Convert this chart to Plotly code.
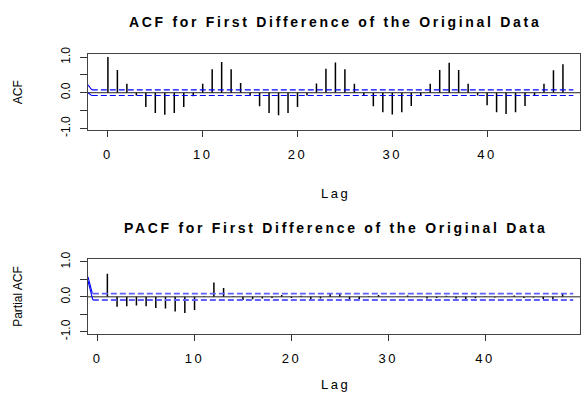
import plotly.graph_objects as go

acf_lags = list(range(0, 49))
acf_vals = [1.00, 0.64, 0.25, -0.08, -0.40, -0.57, -0.62, -0.57, -0.40, -0.10,
            0.25, 0.66, 0.86, 0.66, 0.27, -0.08, -0.38, -0.57, -0.63, -0.57,
            -0.40, -0.08, 0.26, 0.67, 0.85, 0.66, 0.25, -0.08, -0.38, -0.55,
            -0.61, -0.55, -0.37, -0.08, 0.25, 0.64, 0.84, 0.64, 0.25, -0.08,
            -0.35, -0.55, -0.60, -0.55, -0.37, -0.08, 0.25, 0.63, 0.80]

pacf_lags = list(range(1, 49))
pacf_vals = [0.66, -0.28, -0.27, -0.25, -0.27, -0.32, -0.33, -0.42, -0.46, -0.38,
             0.02, 0.41, 0.25, 0.02, -0.09, -0.07, -0.05, -0.03, 0.05, -0.03,
             0.03, -0.09, -0.05, 0.11, 0.08, -0.09, -0.06, 0.02, 0.05, 0.01,
             0.01, 0.04, 0.01, -0.05, -0.03, 0.03, -0.05, -0.07, -0.04, 0.02,
             -0.02, 0.01, 0.04, -0.03, -0.02, -0.06, -0.08, 0.09]

ci_acf = 0.08
ci_pacf = 0.09

x_ticks = [0, 10, 20, 30, 40]
y_ticks = [-1, -0.5, 0, 0.5, 1]
y_ticktext = ["-1.0", "", "0.0", "", "1.0"]

titles = ["ACF for First Difference of the Original Data",
          "PACF for First Difference of the Original Data"]
ylabels = ["ACF", "Partial ACF"]
xlabel = "Lag"

W, H = 581, 403
FONT = "Liberation Sans, Arial, sans-serif"


def spaced(t, px):
    return '<span style="letter-spacing:%spx">%s</span>' % (px, t)


def stems(xs, ys):
    sx, sy = [], []
    for x, y in zip(xs, ys):
        sx += [x, x, None]
        sy += [0, y, None]
    return sx, sy


fig = go.Figure()

px_left, px_right = 88, 580
panels = [
    dict(top=48, bottom=127, xr=[-2.1, 49.8], yr=[-1.054, 1.081],
         xa="x", ya="y", lags=acf_lags, vals=acf_vals, ci=ci_acf,
         ci_start=-1.7, ci_color="blue", ci_w=1.1,
         edge=[(-2.1, 0.22, -1.7, ci_acf), (-2.1, 0.0, -1.7, -ci_acf)]),
    dict(top=261, bottom=339, xr=[-1.0, 49.8], yr=[-1.074, 1.074],
         xa="x2", ya="y2", lags=pacf_lags, vals=pacf_vals, ci=ci_pacf,
         ci_start=-0.5, ci_color="rgb(95,95,255)", ci_w=1.8,
         edge=[(-1.0, 0.57, -0.55, ci_pacf), (-1.0, 0.45, -0.5, -ci_pacf)]),
]

for i, p in enumerate(panels):
    sx, sy = stems(p["lags"], p["vals"])
    fig.add_trace(go.Scatter(x=sx, y=sy, mode="lines", xaxis=p["xa"], yaxis=p["ya"],
                             line=dict(color="black", width=1.5), showlegend=False,
                             hoverinfo="skip"))
    fig.add_trace(go.Scatter(x=[p["xr"][0], p["xr"][1]], y=[0, 0], mode="lines",
                             xaxis=p["xa"], yaxis=p["ya"],
                             line=dict(color="#222", width=1), showlegend=False))
    for s in (1, -1):
        fig.add_trace(go.Scatter(x=[p["ci_start"], 49.1], y=[s * p["ci"], s * p["ci"]],
                                 mode="lines", xaxis=p["xa"], yaxis=p["ya"],
                                 line=dict(color=p["ci_color"], width=p["ci_w"],
                                           dash="6px,3px"),
                                 showlegend=False))
    for (x0, y0, x1, y1) in p["edge"]:
        fig.add_trace(go.Scatter(x=[x0, x1], y=[y0, y1], mode="lines",
                                 xaxis=p["xa"], yaxis=p["ya"],
                                 line=dict(color="blue", width=1.1), showlegend=False))

    xdom = [px_left / W, px_right / W]
    ydom = [1 - p["bottom"] / H, 1 - p["top"] / H]
    axkey = "xaxis" if i == 0 else "xaxis2"
    aykey = "yaxis" if i == 0 else "yaxis2"
    fig.update_layout(**{
        axkey: dict(domain=xdom, range=p["xr"], anchor=p["ya"],
                    tickvals=x_ticks, ticktext=[spaced(str(v), 2.5) for v in x_ticks],
                    ticks="outside", ticklen=6, ticklabelstandoff=6,
                    tickcolor="#333", showgrid=False, zeroline=False,
                    showline=True, linecolor="#444", linewidth=1, mirror=True,
                    tickfont=dict(family=FONT, size=13, color="black")),
        aykey: dict(domain=ydom, range=p["yr"], anchor=p["xa"],
                    tickvals=y_ticks, ticktext=y_ticktext, tickangle=-90,
                    ticks="outside", ticklen=7, ticklabelstandoff=5,
                    tickcolor="#333", showgrid=False, zeroline=False,
                    showline=True, linecolor="#444", linewidth=1, mirror=True,
                    tickfont=dict(family=FONT, size=12, color="black")),
    })

anns = []
title_y = [15, 229]
lag_y = [193, 391]
ylab_x = 18
for i, p in enumerate(panels):
    anns.append(dict(text="<b>" + spaced(titles[i], 2.7) + "</b>",
                     x=(px_left + px_right) / 2 / W + 1 / W,
                     y=1 - title_y[i] / H, xref="paper", yref="paper",
                     showarrow=False, xanchor="center", yanchor="middle",
                     font=dict(family=FONT, size=14, color="black")))
    anns.append(dict(text=spaced(xlabel, 2.5), x=(px_left + px_right) / 2 / W + 1 / W,
                     y=1 - lag_y[i] / H,
                     xref="paper", yref="paper", showarrow=False,
                     xanchor="center", yanchor="middle",
                     font=dict(family=FONT, size=13, color="black")))
    anns.append(dict(text=ylabels[i], x=ylab_x / W,
                     y=1 - (p["top"] + p["bottom"]) / 2 / H, xref="paper", yref="paper",
                     showarrow=False, textangle=-90, xanchor="center", yanchor="middle",
                     font=dict(family=FONT, size=12, color="black")))

fig.update_layout(width=W, height=H, margin=dict(l=0, r=0, t=0, b=0),
                  paper_bgcolor="white", plot_bgcolor="white", annotations=anns,
                  showlegend=False)

fig.write_html("out.html")
